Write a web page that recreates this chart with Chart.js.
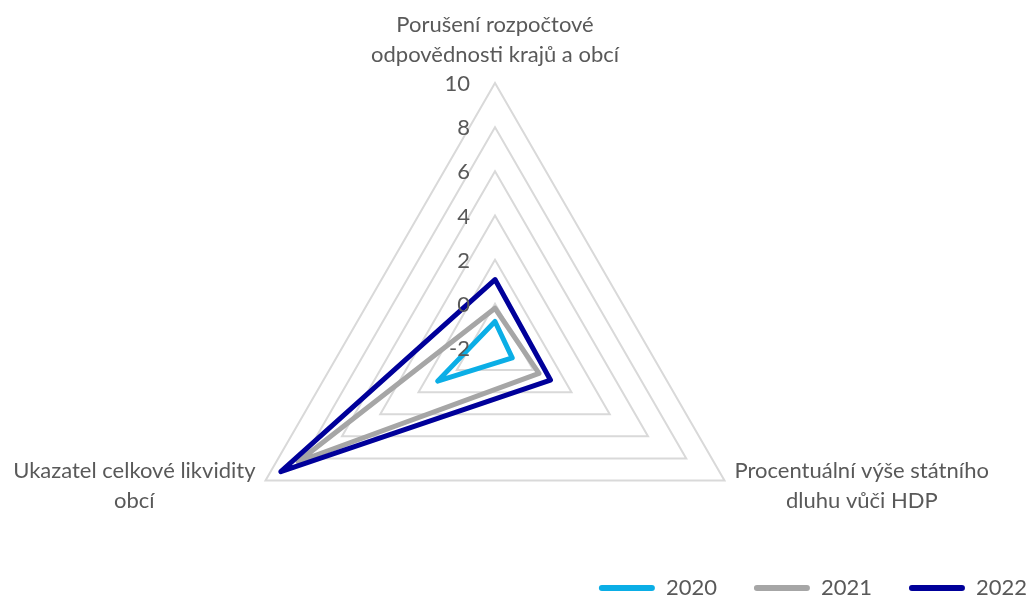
<!DOCTYPE html>
<html lang="cs">
<head>
<meta charset="utf-8">
<title>Radar</title>
<script src="https://cdn.jsdelivr.net/npm/chart.js@4.4.1/dist/chart.umd.min.js"></script>
<style>
  html, body { margin: 0; padding: 0; background: #fff; }
  #wrap { width: 1029px; height: 601px; position: relative; }
</style>
</head>
<body>
<div id="wrap"><canvas id="radarChart"></canvas></div>
<script>
const categories = [
    ["Porušení rozpočtové", "odpovědnosti krajů a obcí"],
    ["Procentuální výše státního", "dluhu vůči HDP"],
    ["Ukazatel celkové likvidity", "obcí"]
];
const seriesNames = ["2020", "2021", "2022"];
const values2020 = [-0.8, -1.1, 1.0];
const values2021 = [-0.2, 0.3, 8.3];
const values2022 = [1.1, 0.9, 9.2];
const tickLabels = [-2, 0, 2, 4, 6, 8, 10];

const colors = ["#0BAEE6", "#A6A6A6", "#00009A"];
const textColor = "#595959";
const fontFamily = "Lato, 'Open Sans', sans-serif";
const fontSize = 22;
const lineH = 30;

// axis titles and tick numbers drawn centred, the way the original shows them
const axisText = {
    id: 'axisText',
    afterDatasetsDraw(chart) {
        const scale = chart.scales.r;
        const ctx = chart.ctx;
        ctx.save();
        ctx.fillStyle = textColor;
        ctx.font = fontSize + 'px ' + fontFamily;
        ctx.textBaseline = 'middle';

        ctx.textAlign = 'right';
        scale.ticks.forEach(t => {
            const y = scale.yCenter - scale.getDistanceFromCenterForValue(t.value);
            ctx.fillText(t.label, scale.xCenter - 25, y + 1);
        });

        ctx.textAlign = 'center';
        categories.forEach((lines, i) => {
            const p = scale.getPointPosition(i, scale.drawingArea);
            const w = Math.max(...lines.map(l => ctx.measureText(l).width));
            let cx, y0;
            if (Math.abs(p.x - scale.xCenter) < 1) {
                cx = p.x;
                y0 = p.y - 28 - lineH * (lines.length - 1);
            } else if (p.x < scale.xCenter) {
                cx = p.x - 10 - w / 2;
                y0 = p.y - 10;
            } else {
                cx = p.x + 10 + w / 2;
                y0 = p.y - 10;
            }
            lines.forEach((l, k) => ctx.fillText(l, cx, y0 + k * lineH));
        });
        ctx.restore();
    }
};

const seriesValues = [values2020, values2021, values2022];

new Chart(document.getElementById('radarChart'), {
    type: 'radar',
    data: {
        labels: categories,
        datasets: seriesNames.map((name, i) => ({
            label: name,
            data: seriesValues[i],
            borderColor: colors[i],
            backgroundColor: colors[i],
            borderWidth: 5,
            borderJoinStyle: 'round',
            fill: false,
            pointRadius: 0,
            pointHoverRadius: 0,
            order: 3 - i
        }))
    },
    options: {
        responsive: true,
        maintainAspectRatio: false,
        animation: false,
        layout: { padding: { right: -35, bottom: -8 } },
        scales: {
            r: {
                min: tickLabels[0],
                max: tickLabels[tickLabels.length - 1],
                ticks: { stepSize: tickLabels[1] - tickLabels[0], display: false },
                angleLines: { display: false },
                grid: { color: '#D9D9D9', lineWidth: 2 },
                pointLabels: { display: false },
                afterFit(scale) {
                    scale.xCenter = 495;
                    scale.yCenter = 348;
                    scale.drawingArea = 265;
                }
            }
        },
        plugins: {
            tooltip: { enabled: false },
            legend: {
                position: 'bottom',
                align: 'end',
                labels: {
                    boxWidth: 56,
                    boxHeight: 6,
                    padding: 37,
                    color: textColor,
                    font: { family: fontFamily, size: fontSize },
                    sort: (a, b) => a.datasetIndex - b.datasetIndex,
                    generateLabels(chart) {
                        return Chart.defaults.plugins.legend.labels.generateLabels(chart).map(item => {
                            item.fillStyle = item.strokeStyle;
                            item.lineWidth = 0;
                            item.borderRadius = 3;
                            return item;
                        });
                    }
                }
            }
        }
    },
    plugins: [axisText]
});
</script>
</body>
</html>
